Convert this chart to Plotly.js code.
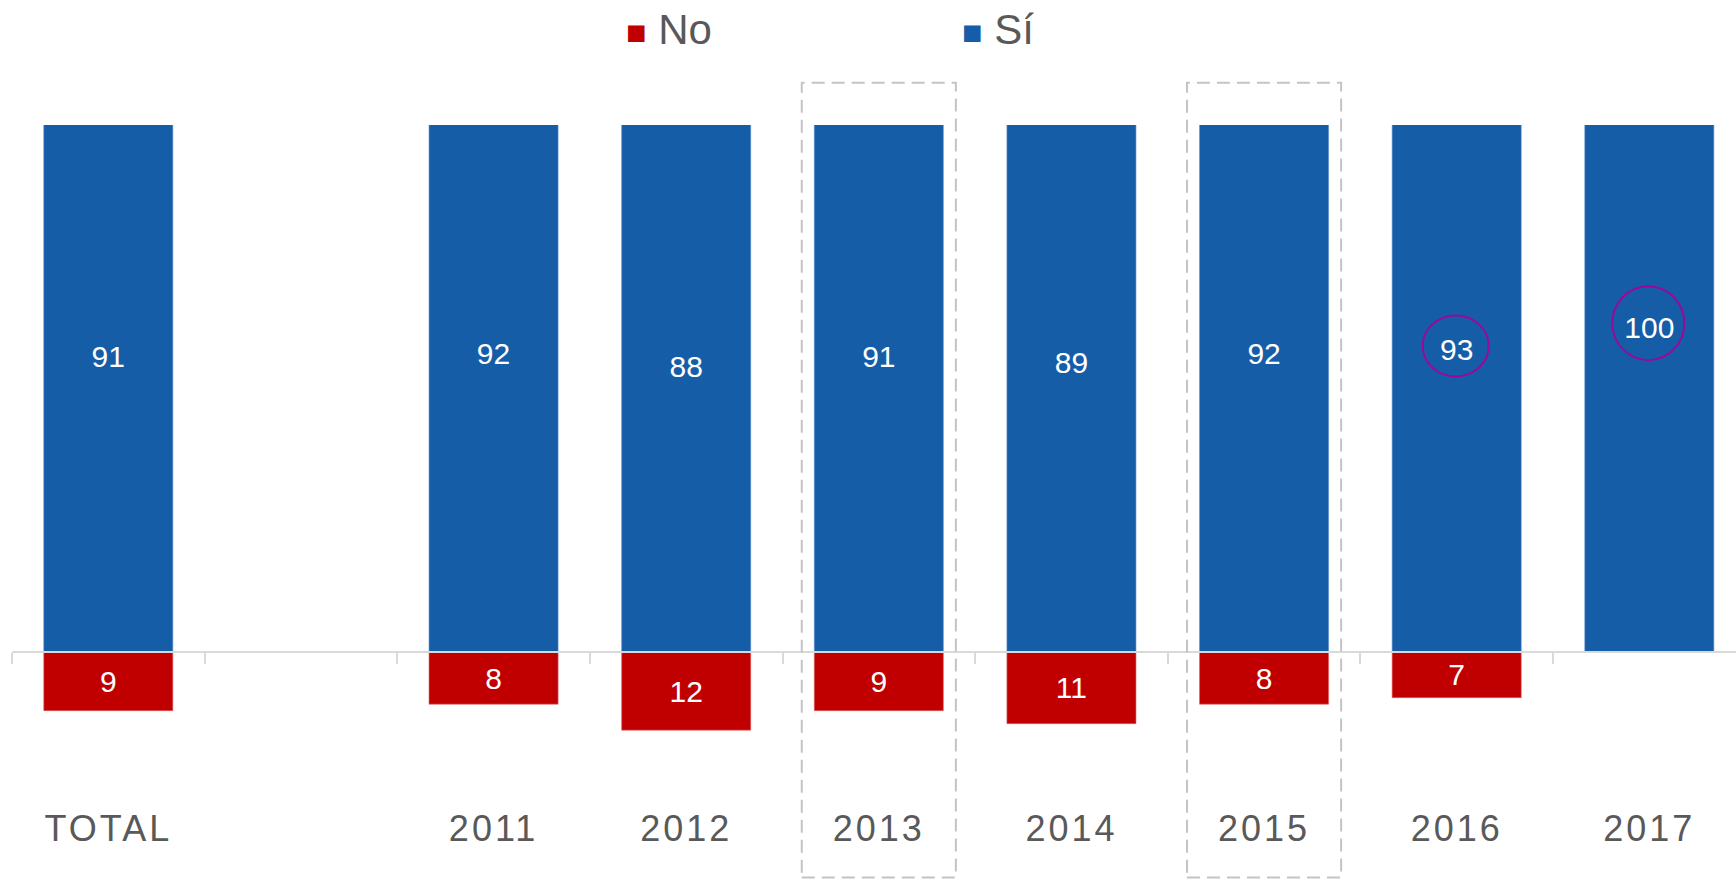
<!DOCTYPE html>
<html>
<head>
<meta charset="utf-8">
<script src="https://cdn.plot.ly/plotly-3.0.1.min.js"></script>
<style>
  html, body { margin: 0; padding: 0; background: #fff; }
  #chart { width: 1736px; height: 879px; }
  /* the original spaces out its axis labels */
  #chart .xtick text { letter-spacing: 3px; }
</style>
</head>
<body>
<div id="chart"></div>
<script>
// data
var categories = ['TOTAL', ' ', '2011', '2012', '2013', '2014', '2015', '2016', '2017'];
var siValues = [91, null, 92, 88, 91, 89, 92, 93, 100];
var noValues = [9, null, 8, 12, 9, 11, 8, 7, null];
var boxedYears = ['2013', '2015'];
var circledYears = ['2016', '2017'];
var seriesNames = ['No', 'Sí'];
var seriesColors = ['#C00000', '#165DA8'];

var grey = '#595959';
var yRange = [-34.9, 81.1];

var traceNo = {
  x: categories,
  y: noValues.map(function (v) { return v == null ? null : -v; }),
  text: noValues,
  type: 'bar',
  name: seriesNames[0],
  marker: { color: seriesColors[0], line: { color: '#e06060', width: 0.6 } },
  texttemplate: '%{text}',
  textposition: 'inside',
  insidetextanchor: 'middle',
  textangle: 0,
  textfont: { color: '#ffffff', size: 30, family: 'Liberation Sans, Arial, sans-serif' },
  hoverinfo: 'skip'
};

var traceSi = {
  x: categories,
  y: siValues,
  text: siValues,
  type: 'bar',
  name: seriesNames[1],
  marker: { color: seriesColors[1], line: { color: '#5d8fcc', width: 0.6 } },
  texttemplate: '%{text}',
  textposition: 'inside',
  insidetextanchor: 'middle',
  textangle: 0,
  textfont: { color: '#ffffff', size: 30, family: 'Liberation Sans, Arial, sans-serif' },
  hoverinfo: 'skip'
};

// dashed boxes round two years
var shapes = [];
boxedYears.forEach(function (yr) {
  var i = categories.indexOf(yr);
  shapes.push({
    type: 'rect', xref: 'x', yref: 'paper',
    x0: i - 0.4, x1: i + 0.4, y0: 0.002, y1: 1.056,
    line: { color: '#c4c4c4', width: 2, dash: '13px,7px' },
    layer: 'above'
  });
});

// purple circles round two labels
circledYears.forEach(function (yr) {
  var i = categories.indexOf(yr);
  var v = siValues[i];
  var wide = String(v).length > 2;
  var rx = wide ? 36 : 33;
  var ry = wide ? 37 : 30.5;
  shapes.push({
    type: 'circle', xref: 'x', yref: 'y',
    xsizemode: 'pixel', ysizemode: 'pixel',
    xanchor: i, yanchor: v / 2,
    x0: -rx - 1, x1: rx - 1, y0: -ry + 4, y1: ry + 4,
    line: { color: '#9a0a9a', width: 2 },
    layer: 'above'
  });
});

// legend as text
var legendX = [0.381, 0.572];
var annotations = seriesNames.map(function (nm, k) {
  return {
    xref: 'paper', yref: 'paper', x: legendX[k], y: 1.126,
    xanchor: 'center', yanchor: 'middle', showarrow: false,
    text: '<span style="color:' + seriesColors[k] + ';font-size:34px">■</span> ' + nm,
    font: { size: 42, color: grey, family: 'Liberation Sans, Arial, sans-serif' }
  };
});

var layout = {
  width: 1736,
  height: 879,
  margin: { l: 12, r: 0, t: 125, b: 0 },
  paper_bgcolor: '#ffffff',
  plot_bgcolor: '#ffffff',
  barmode: 'relative',
  bargap: 0.33,
  showlegend: false,
  font: { family: 'Liberation Sans, Arial, sans-serif', color: grey },
  xaxis: {
    type: 'category',
    range: [-0.5, 8.45],
    anchor: 'free',
    position: (0 - yRange[0]) / (yRange[1] - yRange[0]),
    showline: true,
    linecolor: '#d9d9d9',
    linewidth: 2,
    ticks: 'outside',
    tickson: 'boundaries',
    ticklen: 11,
    tickwidth: 2,
    tickcolor: '#d9d9d9',
    ticklabelstandoff: 145,
    tickfont: { size: 36, color: grey, family: 'Liberation Sans, Arial, sans-serif' },
    showgrid: false,
    zeroline: false,
    fixedrange: true
  },
  yaxis: {
    range: yRange,
    visible: false,
    showgrid: false,
    zeroline: false,
    fixedrange: true
  },
  shapes: shapes,
  annotations: annotations
};

Plotly.newPlot('chart', [traceNo, traceSi], layout, { displayModeBar: false, staticPlot: true });
</script>
</body>
</html>
